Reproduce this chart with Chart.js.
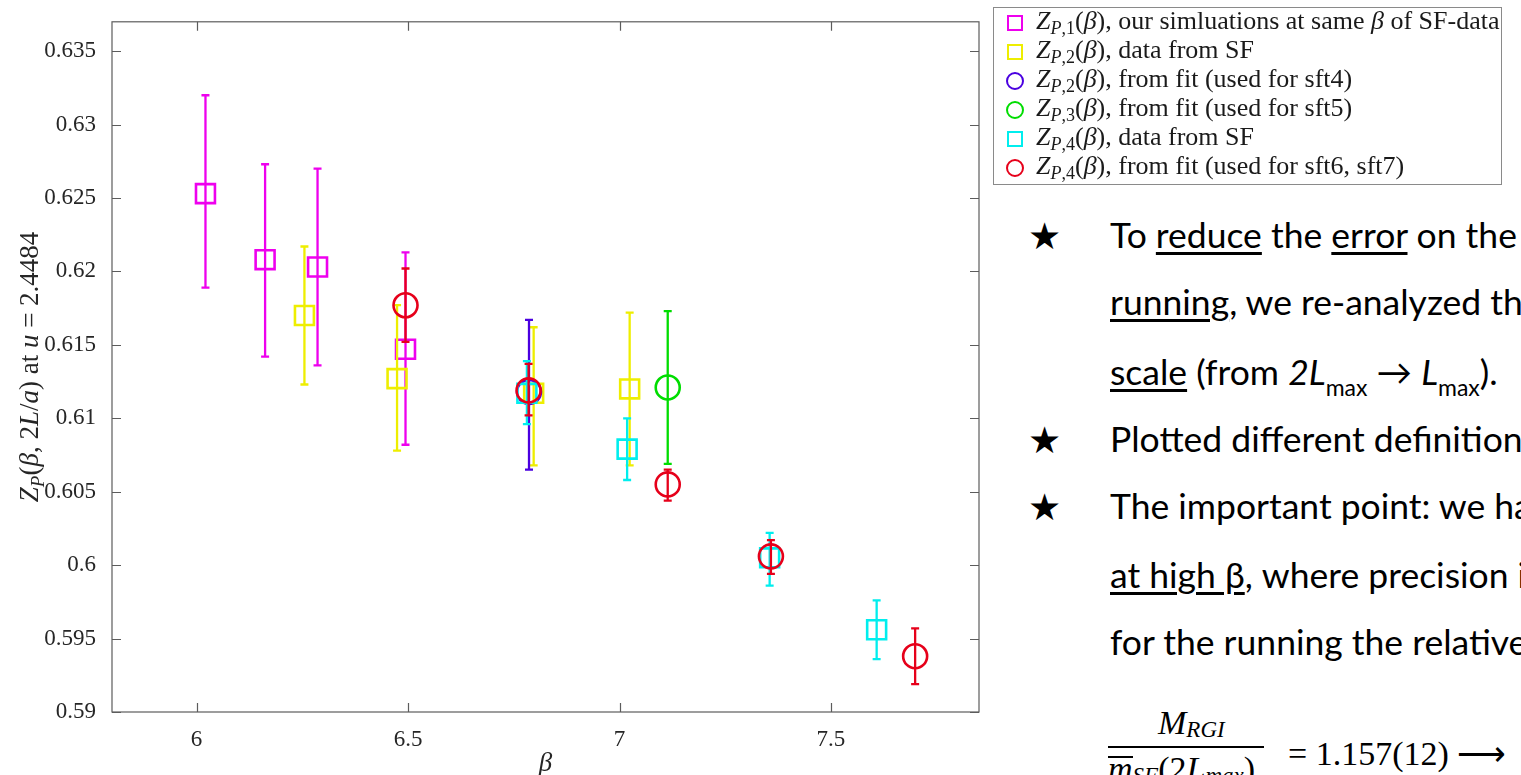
<!DOCTYPE html>
<html>
<head>
<meta charset="utf-8">
<script src="https://cdn.jsdelivr.net/npm/chart.js@4.4.1/dist/chart.umd.min.js"></script>
<style>
  html, body { margin: 0; padding: 0; background: #fff; }
  body { width: 1521px; height: 775px; overflow: hidden; position: relative; }
  #plot { position: absolute; left: 0; top: 0; }
  #legendBox {
    position: absolute; left: 993px; top: 7px; width: 509px; height: 178px;
    box-sizing: border-box; border: 1.5px solid #8a8a8a; background: #fff;
  }
  .mk { position: absolute; box-sizing: border-box; border: 2px solid; }
  .ln { position: absolute; white-space: nowrap; color: #000; }
  .leg { font-family: 'Liberation Serif', serif; font-size: 26px; color: #1a1a1a; }
  .leg sub { font-size: 18px; vertical-align: -5px; line-height: 0; }
  .note { font-family: Lato, 'Open Sans', sans-serif; font-size: 35.5px; }
  .note u { text-decoration-thickness: 3px; text-underline-offset: 4px; }
  .note sub { font-size: 23px; vertical-align: -11px; line-height: 0; }
  .star { font-family: 'DejaVu Sans', sans-serif; font-size: 37px; }
  .eq { font-family: 'Liberation Serif', serif; font-size: 34px; }
  .eq sub { font-size: 23px; vertical-align: -3px; line-height: 0; }
  .ovl { border-top: 2px solid #000; display: inline-block; line-height: 0.6; padding-top: 1px; }
  .probe { display: inline-block; width: 0; height: 0; }
  #fracbar { position: absolute; left: 1108px; top: 746px; width: 156px; height: 2px; background: #000; }
</style>
</head>
<body>
<canvas id="plot" width="995" height="775"></canvas>
<div id="legendBox"></div>
<div id="notes"></div>
<div id="fracbar"></div>
<script>
// beta values and Z_P(beta, 2L/a) with lower / upper error-bar ends, per series
const betaP1 = [6.021, 6.162, 6.286, 6.494];
const zP1    = [0.6253, 0.6208, 0.6203, 0.6147];
const zP1Lo  = [0.6189, 0.6142, 0.6136, 0.6082];
const zP1Hi  = [0.6320, 0.6273, 0.6270, 0.6213];

const betaP2sf = [6.255, 6.474, 6.797, 7.024];
const zP2sf    = [0.6170, 0.6127, 0.6117, 0.6120];
const zP2sfLo  = [0.6123, 0.6078, 0.6068, 0.6068];
const zP2sfHi  = [0.6217, 0.6177, 0.6162, 0.6172];

const betaP2fit = [6.786];
const zP2fit    = [0.6118];
const zP2fitLo  = [0.6065];
const zP2fitHi  = [0.6167];

const betaP3fit = [7.114];
const zP3fit    = [0.6121];
const zP3fitLo  = [0.6069];
const zP3fitHi  = [0.6173];

const betaP4sf = [6.781, 7.018, 7.355, 7.608];
const zP4sf    = [0.6117, 0.6079, 0.6005, 0.5956];
const zP4sfLo  = [0.6096, 0.6058, 0.5986, 0.5936];
const zP4sfHi  = [0.6139, 0.6100, 0.6022, 0.5976];

const betaP4fit = [6.494, 6.785, 7.114, 7.358, 7.699];
const zP4fit    = [0.6177, 0.6119, 0.6055, 0.6006, 0.5938];
const zP4fitLo  = [0.6152, 0.6102, 0.6044, 0.5994, 0.5919];
const zP4fitHi  = [0.6202, 0.6137, 0.6065, 0.6017, 0.5957];

// axis ticks
const xTicks = [6, 6.5, 7, 7.5];
const xTickLabels = ['6', '6.5', '7', '7.5'];
const yTicks = [0.59, 0.595, 0.6, 0.605, 0.61, 0.615, 0.62, 0.625, 0.63, 0.635];
const yTickLabels = ['0.59', '0.595', '0.6', '0.605', '0.61', '0.615', '0.62', '0.625', '0.63', '0.635'];

// legend entries: index of Z_P and description
const legendIndex = ['1', '2', '2', '3', '4', '4'];
const legendNote = [
  'our simluations at same <i>β</i> of SF-data',
  'data from SF',
  'from fit (used for sft4)',
  'from fit (used for sft5)',
  'data from SF',
  'from fit (used for sft6, sft7)'
];

const series = [
  { x: betaP1,    y: zP1,    lo: zP1Lo,    hi: zP1Hi,    color: '#ee00ee', marker: 'rect' },
  { x: betaP2sf,  y: zP2sf,  lo: zP2sfLo,  hi: zP2sfHi,  color: '#eeee00', marker: 'rect' },
  { x: betaP2fit, y: zP2fit, lo: zP2fitLo, hi: zP2fitHi, color: '#4a00e0', marker: 'circle' },
  { x: betaP3fit, y: zP3fit, lo: zP3fitLo, hi: zP3fitHi, color: '#00dd00', marker: 'circle' },
  { x: betaP4sf,  y: zP4sf,  lo: zP4sfLo,  hi: zP4sfHi,  color: '#00eeee', marker: 'rect' },
  { x: betaP4fit, y: zP4fit, lo: zP4fitLo, hi: zP4fitHi, color: '#e6001a', marker: 'circle' }
];

const FRAME = '#5c5c5c';
const TICKTXT = '#262626';
const SERIF = "'Liberation Serif', serif";

// vertical error bars with caps, drawn just under each series' markers
const errorBars = {
  id: 'errorBars',
  beforeDatasetDraw(chart, args) {
    const ds = chart.data.datasets[args.index];
    const xs = chart.scales.x, ys = chart.scales.y, ctx = chart.ctx;
    ctx.save();
    ctx.strokeStyle = ds.borderColor;
    ctx.lineWidth = 2.3;
    ds.data.forEach((p, k) => {
      const px = xs.getPixelForValue(p.x);
      const t = ys.getPixelForValue(ds.errHi[k]);
      const b = ys.getPixelForValue(ds.errLo[k]);
      ctx.beginPath();
      ctx.moveTo(px, t); ctx.lineTo(px, b);
      ctx.moveTo(px - 4, t); ctx.lineTo(px + 4, t);
      ctx.moveTo(px - 4, b); ctx.lineTo(px + 4, b);
      ctx.stroke();
    });
    ctx.restore();
  }
};

// mixed roman / italic / subscript text, centred on cx, baseline at by
function drawRich(ctx, parts, cx, by, size) {
  const fontFor = k => (k.indexOf('i') >= 0 ? 'italic ' : '') +
    (k[0] === 's' ? Math.round(size * 0.7) : size) + 'px ' + SERIF;
  let w = 0;
  parts.forEach(([t, k]) => { ctx.font = fontFor(k); w += ctx.measureText(t).width; });
  let x = cx - w / 2;
  ctx.textAlign = 'left';
  ctx.textBaseline = 'alphabetic';
  parts.forEach(([t, k]) => {
    ctx.font = fontFor(k);
    ctx.fillText(t, x, by + (k[0] === 's' ? size * 0.22 : 0));
    x += ctx.measureText(t).width;
  });
}

// box frame with inward ticks on all four sides, plus axis titles
const frame = {
  id: 'frame',
  afterDraw(chart) {
    const { ctx, chartArea: a, scales } = chart;
    ctx.save();
    ctx.strokeStyle = FRAME;
    ctx.lineWidth = 1.2;
    ctx.strokeRect(a.left, a.top, a.right - a.left, a.bottom - a.top);
    ctx.beginPath();
    xTicks.forEach(v => {
      const px = Math.round(scales.x.getPixelForValue(v)) + 0.5;
      ctx.moveTo(px, a.bottom); ctx.lineTo(px, a.bottom - 9);
      ctx.moveTo(px, a.top); ctx.lineTo(px, a.top + 9);
    });
    yTicks.forEach(v => {
      const py = Math.round(scales.y.getPixelForValue(v)) + 0.5;
      ctx.moveTo(a.left, py); ctx.lineTo(a.left + 9, py);
      ctx.moveTo(a.right, py); ctx.lineTo(a.right - 9, py);
    });
    ctx.stroke();

    ctx.fillStyle = TICKTXT;
    // x title
    drawRich(ctx, [['β', 'i']], (a.left + a.right) / 2, 771, 27);
    // y title, rotated
    ctx.translate(38, (a.top + a.bottom) / 2);
    ctx.rotate(-Math.PI / 2);
    drawRich(ctx, [
      ['Z', 'i'], ['P', 'si'], ['(', 'r'], ['β', 'i'], [', 2', 'r'], ['L', 'i'],
      ['/', 'r'], ['a', 'i'], [')', 'r'], [' at ', 'r'], ['u', 'i'], [' = 2.4484', 'r']
    ], 0, 0, 27);
    ctx.restore();
  }
};

const datasets = series.map((s, i) => ({
  data: s.x.map((x, k) => ({ x, y: s.y[k] })),
  errLo: s.lo,
  errHi: s.hi,
  borderColor: s.color,
  backgroundColor: 'rgba(0,0,0,0)',
  pointStyle: s.marker,
  pointRadius: s.marker === 'rect' ? 13.4 : 12,
  pointHoverRadius: s.marker === 'rect' ? 13.4 : 12,
  pointBorderWidth: 2.6,
  showLine: false,
  order: series.length - i
}));

new Chart(document.getElementById('plot'), {
  type: 'scatter',
  data: { datasets },
  options: {
    responsive: false,
    animation: false,
    devicePixelRatio: 1,
    layout: { padding: { top: 7, right: 12, left: 0, bottom: 0 } },
    plugins: { legend: { display: false }, tooltip: { enabled: false } },
    scales: {
      x: {
        type: 'linear', min: 5.8, max: 7.85,
        afterBuildTicks: s => { s.ticks = xTicks.map(v => ({ value: v })); },
        afterFit: s => { s.height = 63; },
        grid: { display: false }, border: { display: false },
        ticks: {
          callback: (v, i) => xTickLabels[i], autoSkip: false, maxRotation: 0,
          padding: 6, color: TICKTXT, font: { family: SERIF, size: 23 }
        }
      },
      y: {
        type: 'linear', min: 0.59, max: 0.637,
        afterBuildTicks: s => { s.ticks = yTicks.map(v => ({ value: v })); },
        afterFit: s => { s.width = 112; },
        grid: { display: false }, border: { display: false },
        ticks: {
          callback: (v, i) => yTickLabels[i], autoSkip: false,
          padding: 8, color: TICKTXT, font: { family: SERIF, size: 23 }
        }
      }
    }
  },
  plugins: [errorBars, frame]
});

const notes = document.getElementById('notes');
// place a line of text so that its baseline sits at the given y
function placeLine(cls, x, base, html) {
  const d = document.createElement('div');
  d.className = 'ln ' + cls;
  d.style.left = x + 'px';
  d.style.top = '0px';
  d.innerHTML = '<span class="probe"></span>' + html;
  notes.appendChild(d);
  const probe = d.querySelector('.probe');
  d.style.top = (base - probe.offsetTop) + 'px';
}

// legend rows: marker + label
const rowCenters = [23, 52, 81, 110, 139, 168];
series.forEach((s, i) => {
  const mk = document.createElement('span');
  mk.className = 'mk';
  const size = s.marker === 'rect' ? 16 : 18;
  mk.style.width = size + 'px';
  mk.style.height = size + 'px';
  mk.style.left = (1015 - size / 2) + 'px';
  mk.style.top = (rowCenters[i] - size / 2) + 'px';
  mk.style.borderColor = s.color;
  if (s.marker === 'circle') mk.style.borderRadius = '50%';
  notes.appendChild(mk);
  placeLine('leg', 1036, rowCenters[i] + 6,
    '<i>Z</i><sub><i>P</i>,' + legendIndex[i] + '</sub>(<i>β</i>), ' + legendNote[i]);
});

// notes on the right: [class, left x, baseline y, html]
const noteLines = [
  ['star', 1028, 249, '★'],
  ['note', 1110, 248, 'To <u>reduce</u> the <u>error</u> on the'],
  ['note', 1110, 315, '<u>running</u>, we re-analyzed the'],
  ['note', 1110, 385, '<u>scale</u> (from <i>2L</i><sub>max</sub> → <i>L</i><sub>max</sub>).'],
  ['star', 1028, 453, '★'],
  ['note', 1110, 452, 'Plotted different definitions'],
  ['star', 1028, 520, '★'],
  ['note', 1110, 519, 'The important point: we have'],
  ['note', 1110, 588, '<u>at high β</u>, where precision is'],
  ['note', 1110, 655, 'for the running the relative'],
  ['eq', 1158, 734, '<i>M</i><sub><i>RGI</i></sub>'],
  ['eq', 1288, 765, '= 1.157(12) ⟶'],
  ['eq', 1108, 780, '<i class="ovl">m</i><sub><i>SF</i></sub>(2<i>L</i><sub><i>max</i></sub>)']
];
noteLines.forEach(([cls, x, base, html]) => placeLine(cls, x, base, html));
</script>
</body>
</html>
